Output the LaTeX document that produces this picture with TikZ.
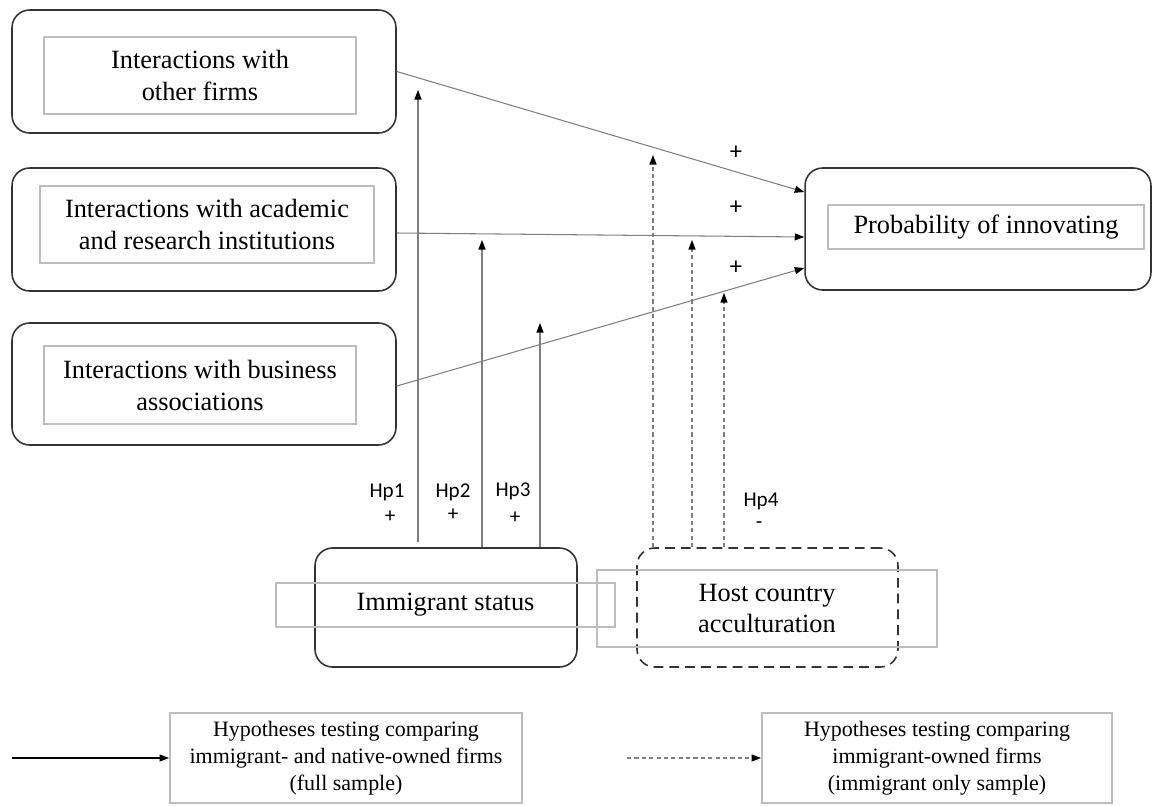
\documentclass[tikz,border=0pt]{standalone}
\usepackage{fontspec}
\setmainfont{Liberation Serif}
\newfontfamily\hpfont{Carlito}
\usetikzlibrary{arrows.meta, positioning, calc}
\definecolor{cline}{HTML}{7F7F7F}
\definecolor{cframe}{HTML}{333333}
\definecolor{cinner}{HTML}{BDBDBD}
\tikzset{
  every picture/.style={line width=0.6pt},
  outer/.style={draw=cframe, rounded corners=10pt, line width=0.9pt, inner sep=0pt},
  inner/.style={draw=cinner, line width=1.1pt, inner sep=0pt, align=center, font=\fontsize{15}{18.2}\selectfont},
  legtext/.style={font=\fontsize{12.5}{15.4}\selectfont},
  conn/.style={draw=cline, -{Triangle[length=1.9mm, width=1.4mm, color=black]}},
  dashconn/.style={conn, dash pattern=on 2.4pt off 1.8pt},
  hp/.style={font=\hpfont\fontsize{12}{14}\selectfont},
  sign/.style={font=\hpfont\fontsize{14}{16}\selectfont},
}
\begin{document}
\begin{tikzpicture}[x=0.02cm, y=-0.02cm]
  \useasboundingbox (0,0) rectangle (1153,805);
  \foreach \n/\y/\h in {b1/71.5/2.46, b2/229.5/2.46, b3/384/2.44}
    \node[outer, minimum width=7.68cm, minimum height=\h cm] (\n) at (204,\y) {};
  \node[inner, minimum width=6.24cm, minimum height=1.54cm] (t1) at (200,75.5) {Interactions with\\other firms};
  \node[inner, minimum width=6.68cm, minimum height=1.54cm] (t2) at (207,224.5) {Interactions with academic\\and research institutions};
  \node[inner, minimum width=6.24cm, minimum height=1.56cm] (t3) at (200,385) {Interactions with business\\associations};
  \node[outer, minimum width=6.92cm, minimum height=2.44cm] (pp) at (978,229) {};
  \node[inner, minimum width=6.32cm, minimum height=0.88cm] (tp) at (986,227) {Probability of innovating};
  \node[outer, minimum width=5.24cm, minimum height=2.38cm] (ims) at (446,607.5) {};
  \node[inner, minimum width=6.78cm, minimum height=0.88cm] (tim) at (445.5,605) {Immigrant status};
  \node[outer, dash pattern=on 5.6pt off 3.4pt, minimum width=5.22cm, minimum height=2.38cm] (hca) at (767.5,607.5) {};
  \node[inner, minimum width=6.8cm, minimum height=1.54cm] (thc) at (767,608.5) {Host country\\acculturation};
  \draw[conn] (b1.east) -- ($(pp.west)+(0,-37)$);
  \draw[conn] ($(b2.east)+(0,3.5)$) -- ($(pp.west)+(0,8)$);
  \draw[conn] ($(b3.east)+(0,2)$) -- ($(pp.west)+(0,39)$);
  \foreach \i/\y in {1/153, 2/208, 3/268}
    \node[sign] (plus\i) at (736,\y) {+};
  \foreach \i/\x/\y in {1/418/90, 2/482/240, 3/540/323} {
    \coordinate (hp\i) at (\x,\y);
    \draw[conn] ($(ims.north -| hp\i)+(0,\ifnum\i=1 -5\else 0\fi)$) -- (hp\i);
  }
  \foreach \i/\x/\y in {1/653/155, 2/692/240, 3/724/293} {
    \coordinate (dp\i) at (\x,\y);
    \draw[dashconn] (hca.north -| dp\i) -- (dp\i);
  }
  \foreach \i/\x/\y/\sx/\sy/\s in {1/387/492/390/517/+, 2/453/492/453/515/+, 3/513/491/515/518/+, 4/761/501/759/525/-} {
    \node[hp] (lab\i) at (\x,\y) {Hp\i};
    \node[hp] (sgn\i) at (\sx,\sy) {\s};
  }
  \node[inner, legtext, minimum width=7.04cm, minimum height=1.8cm] (leg1) at (346,758) {Hypotheses testing comparing\\immigrant- and native-owned firms\\(full sample)};
  \node[inner, legtext, minimum width=7.0cm, minimum height=1.8cm] (leg2) at (937,758) {Hypotheses testing comparing\\immigrant-owned firms\\(immigrant only sample)};
  \coordinate (s1) at (12,758);
  \coordinate (s2) at (627,758);
  \draw[conn, draw=black] (s1) -- (leg1.west);
  \draw[dashconn] (s2) -- (leg2.west);
\end{tikzpicture}
\end{document}
